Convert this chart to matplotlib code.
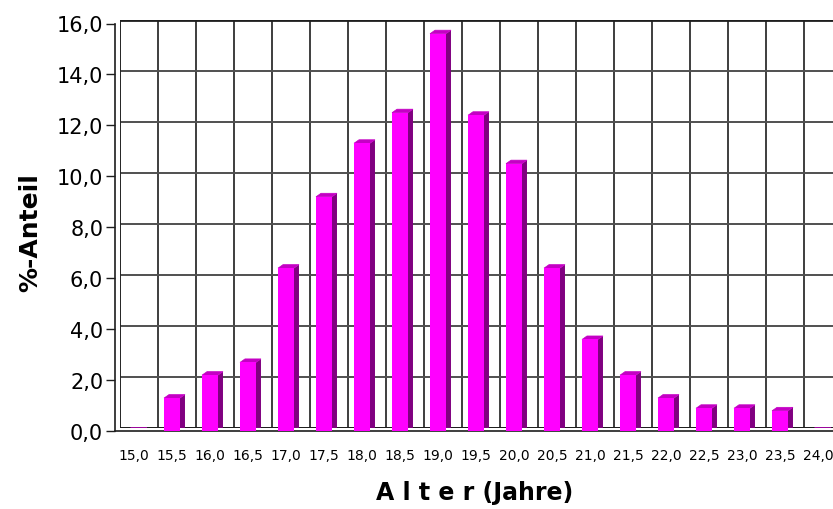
import numpy as np
import matplotlib
matplotlib.use("Agg")
import matplotlib.pyplot as plt
from matplotlib.patches import Polygon
from matplotlib.transforms import IdentityTransform

# data
ages = ["15,0", "15,5", "16,0", "16,5", "17,0", "17,5", "18,0", "18,5", "19,0", "19,5",
        "20,0", "20,5", "21,0", "21,5", "22,0", "22,5", "23,0", "23,5", "24,0"]
share = [0.0, 1.3, 2.2, 2.7, 6.4, 9.2, 11.3, 12.5, 15.6, 12.4,
         10.5, 6.4, 3.6, 2.2, 1.3, 0.9, 0.9, 0.8, 0.0]
yticks = [0, 2, 4, 6, 8, 10, 12, 14, 16]

FRONT = "#ff00ff"
SIDE = "#800080"
TOP = "#c400c4"
GRID = "#1e1e1e"
HGRID = "#505050"

W, H = 833, 510
DX, DY = 5, 3.5          # depth of the pseudo-3d box, pixels
BAR_W = 0.42

plt.rcParams["font.family"] = ["DejaVu Sans"]

fig = plt.figure(figsize=(W / 100, H / 100), dpi=100)
fig.patch.set_facecolor("white")

# back plane (grid) and front plane (axes, bar faces)
left, bottom, width, height = 120, 81.3, 722, 407.7
ax = fig.add_axes([left / W, bottom / H, width / W, height / H])
axf = fig.add_axes([(left - DX) / W, (bottom - DY) / H, width / W, height / H])

x = np.arange(len(ages))
for a in (ax, axf):
    a.set_xlim(-0.5, len(ages) - 0.5)
    a.set_ylim(0, 16)

# back grid
ax.set_yticks(yticks)
ax.set_xticks(np.arange(-0.5, len(ages), 1), minor=True)
ax.set_xticks([])
ax.grid(True, which="major", axis="y", color=HGRID, lw=1.4)
ax.grid(True, which="minor", axis="x", color=GRID, lw=1.2)
ax.tick_params(which="both", length=0, labelleft=False, labelbottom=False)
for s in ax.spines.values():
    s.set_visible(False)
ax.axhline(16, color=GRID, lw=2)
ax.set_axisbelow(True)

tb, tf = ax.transData, axf.transData


def quad(p1, p2, p3, p4, **kw):
    pts = np.vstack([p1, p2, p3, p4])
    ax.add_patch(Polygon(pts, closed=True, transform=IdentityTransform(), **kw))


# left wall and floor
quad(tb.transform((-0.5, 0)), tb.transform((-0.5, 16)), tf.transform((-0.5, 16)),
     tf.transform((-0.5, 0)), facecolor="white", edgecolor=GRID, lw=1, zorder=2)
quad(tb.transform((-0.5, 0)), tb.transform((len(ages) - 0.5, 0)),
     tf.transform((len(ages) - 0.5, 0)), tf.transform((-0.5, 0)),
     facecolor="#8c8c8c", edgecolor=GRID, lw=1, zorder=2)
for v in yticks:
    p, q = tb.transform((-0.5, v)), tf.transform((-0.5, v))
    ax.plot([p[0], q[0]], [p[1], q[1]], color=GRID, lw=1, transform=IdentityTransform(), zorder=2)
for b in np.arange(-0.5, len(ages), 1):
    p, q = tb.transform((b, 0)), tf.transform((b, 0))
    ax.plot([p[0], q[0]], [p[1], q[1]], color=GRID, lw=1, transform=IdentityTransform(), zorder=2)

# bars: side and top faces between back and front plane
for xi, v in zip(x, share):
    l, r = xi - BAR_W / 2, xi + BAR_W / 2
    quad(tb.transform((r, 0)), tb.transform((r, v)), tf.transform((r, v)), tf.transform((r, 0)),
         facecolor=SIDE, edgecolor="none", zorder=3)
    quad(tb.transform((l, v)), tb.transform((r, v)), tf.transform((r, v)), tf.transform((l, v)),
         facecolor=TOP, edgecolor=TOP, lw=0.5, zorder=3)

# front faces
axf.patch.set_visible(False)
axf.bar(x, share, width=BAR_W, color=FRONT, edgecolor="none", zorder=3)
for k in ("top", "right"):
    axf.spines[k].set_visible(False)
axf.spines["left"].set_color(GRID)
axf.spines["bottom"].set_color(GRID)
axf.spines["left"].set_linewidth(1.2)
axf.spines["bottom"].set_linewidth(1.2)
axf.set_yticks(yticks)
axf.set_yticklabels([f"{v:.1f}".replace(".", ",") for v in yticks], fontsize=15)
axf.set_xticks(x)
axf.set_xticklabels(ages, fontsize=10)
axf.tick_params(axis="y", length=6.5, width=1, color=GRID, pad=2)
axf.tick_params(axis="x", length=0, pad=12)

fig.text(475 / W, 1 - 493 / H, "A l t e r (Jahre)", fontsize=17, fontweight="bold",
         ha="center", va="center")
fig.text(30 / W, 1 - 233 / H, "%-Anteil", fontsize=18, fontweight="bold",
         rotation=90, ha="center", va="center")

fig.savefig("out.png", dpi=100)
